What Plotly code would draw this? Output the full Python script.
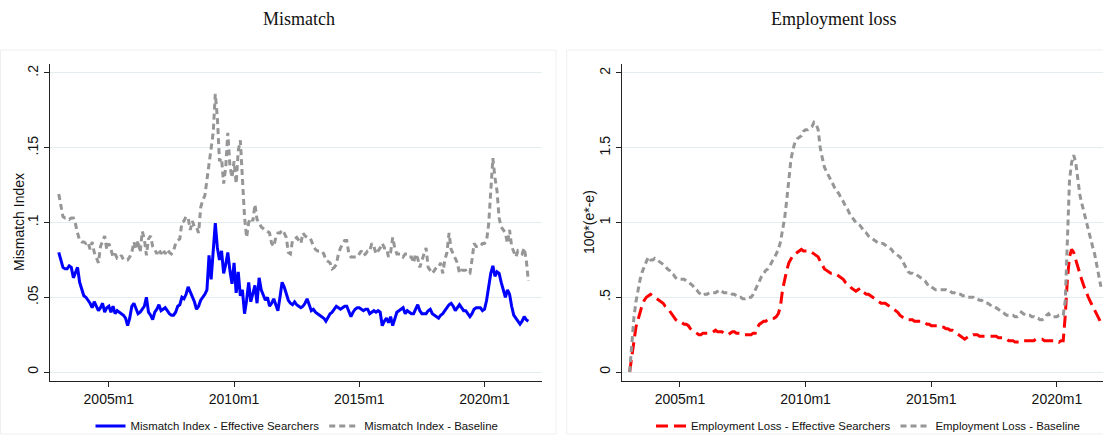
import pandas as pd
import plotly.graph_objects as go

# Monthly series, 2003m1 onwards
mismatch_eff = [
    .080, .075, .070, .069, .069, .071, .070, .063, .067, .070, .060, .056,
    .051, .050, .048, .046, .043, .047, .044, .041, .043, .046, .040, .043,
    .044, .040, .044, .039, .041, .040, .039, .038, .036, .031, .036, .044,
    .046, .042, .039, .040, .042, .044, .050, .040, .038, .035, .040, .042,
    .045, .041, .042, .043, .041, .039, .038, .038, .040, .044, .045, .050,
    .049, .052, .057, .054, .050, .047, .042, .044, .048, .050, .052, .055,
    .078, .062, .080, .0996, .083, .075, .081, .066, .072, .080, .068, .059,
    .073, .053, .067, .051, .055, .039, .048, .060, .047, .052, .058, .046,
    .063, .055, .052, .048, .050, .044, .046, .049, .045, .041, .050, .060,
    .057, .052, .048, .046, .045, .047, .045, .044, .043, .044, .046, .049,
    .045, .041, .042, .040, .039, .038, .037, .036, .034, .037, .039, .040,
    .042, .044, .043, .042, .043, .044, .044, .040, .037, .040, .042, .043,
    .043, .042, .041, .042, .042, .039, .040, .041, .040, .041, .040, .031,
    .034, .036, .033, .037, .031, .035, .040, .041, .042, .043, .039, .041,
    .040, .039, .039, .042, .045, .041, .039, .039, .039, .041, .042, .039,
    .038, .037, .036, .038, .039, .041, .043, .045, .046, .044, .041, .043,
    .045, .043, .041, .041, .039, .037, .039, .042, .043, .043, .043, .041,
    .042, .048, .057, .066, .071, .064, .067, .066, .060, .055, .050, .055,
    .052, .044, .038, .036, .034, .032, .034, .037, .035, .034,
]

mismatch_base = [
    .119, .110, .104, .103, .103, .102, .103, .103, .099, .093, .088, .087,
    .087, .086, .087, .082, .087, .080, .076, .073, .084, .088, .091, .082,
    .086, .082, .077, .079, .076, .076, .078, .075, .075, .075, .077, .080,
    .087, .082, .088, .080, .094, .089, .078, .089, .091, .084, .082, .079,
    .082, .079, .082, .079, .082, .080, .079, .081, .086, .088, .089, .100,
    .101, .104, .103, .095, .101, .097, .097, .093, .110, .115, .118, .128,
    .139, .148, .160, .186, .170, .141, .143, .126, .137, .160, .138, .130,
    .141, .126, .148, .155, .125, .104, .090, .100, .103, .101, .112, .102,
    .100, .097, .096, .095, .094, .093, .086, .084, .090, .093, .093, .095,
    .093, .090, .080, .079, .088, .089, .090, .088, .086, .093, .091, .090,
    .090, .088, .084, .082, .081, .081, .081, .079, .075, .074, .073, .069,
    .070, .072, .079, .083, .086, .088, .088, .079, .077, .077, .077, .077,
    .079, .081, .078, .079, .081, .081, .086, .084, .079, .081, .083, .086,
    .083, .083, .077, .080, .090, .083, .079, .079, .079, .077, .079, .079,
    .077, .077, .073, .079, .076, .070, .075, .079, .083, .070, .068, .066,
    .068, .070, .070, .073, .066, .075, .080, .093, .082, .079, .077, .073,
    .066, .068, .068, .068, .066, .066, .075, .086, .084, .084, .084, .086,
    .086, .088, .099, .121, .143, .130, .121, .103, .097, .095, .093, .086,
    .095, .084, .080, .077, .081, .080, .079, .083, .075, .061,
]

emp_loss_eff = [
    .00, .10, .17, .30, .35, .41, .45, .48, .50, .51, .52, .51,
    .50, .49, .48, .47, .46, .44, .43, .41, .39, .37, .35, .34,
    .33, .33, .32, .32, .31, .29, .28, .27, .26, .25, .25, .26,
    .26, .26, .26, .26, .27, .28, .27, .27, .27, .26, .25, .25,
    .26, .27, .27, .26, .26, .26, .25, .25, .25, .25, .25, .26,
    .26, .30, .32, .33, .34, .34, .35, .35, .36, .36, .37, .39,
    .44, .55, .62, .68, .73, .76, .78, .79, .80, .81, .82, .81,
    .81, .81, .80, .80, .79, .78, .77, .74, .71, .69, .68, .67,
    .66, .66, .66, .65, .64, .63, .62, .60, .59, .58, .56, .55,
    .54, .55, .56, .54, .53, .52, .52, .51, .50, .49, .48, .47,
    .46, .46, .46, .45, .44, .43, .42, .41, .40, .38, .37, .36,
    .35, .35, .35, .35, .34, .34, .34, .34, .33, .33, .32, .32,
    .31, .31, .31, .31, .30, .30, .30, .29, .29, .28, .28, .27,
    .26, .25, .24, .23, .22, .23, .24, .24, .25, .25, .25, .24,
    .24, .24, .24, .24, .24, .24, .24, .24, .23, .23, .23, .22,
    .22, .21, .21, .21, .20, .20, .20, .21, .21, .21, .21, .21,
    .21, .21, .22, .22, .22, .22, .21, .21, .21, .21, .21, .21,
    .21, .20, .21, .21, .38, .62, .77, .82, .80, .75, .70, .66,
    .61, .57, .53, .50, .47, .44, .41, .38, .35, .33,
]

emp_loss_base = [
    .00, .18, .36, .47, .55, .62, .67, .71, .74, .77, .75, .75,
    .76, .75, .74, .73, .72, .71, .69, .68, .66, .65, .63, .62,
    .62, .62, .62, .61, .60, .59, .58, .56, .55, .53, .52, .51,
    .52, .52, .53, .53, .53, .53, .54, .55, .54, .53, .53, .53,
    .53, .52, .52, .51, .50, .50, .49, .49, .50, .50, .50, .52,
    .55, .58, .62, .64, .66, .68, .69, .71, .74, .76, .79, .82,
    .87, .95, 1.03, 1.15, 1.30, 1.42, 1.49, 1.54, 1.56, 1.57, 1.58, 1.61,
    1.62, 1.62, 1.63, 1.64, 1.67, 1.66, 1.62, 1.50, 1.43, 1.37, 1.34, 1.31,
    1.29, 1.26, 1.23, 1.21, 1.19, 1.16, 1.14, 1.11, 1.09, 1.06, 1.04, 1.02,
    1.00, .99, .98, .96, .94, .93, .91, .90, .89, .88, .87, .86,
    .86, .86, .85, .84, .83, .82, .80, .79, .78, .77, .75, .72,
    .69, .67, .66, .66, .65, .65, .64, .63, .62, .61, .59, .57,
    .57, .56, .55, .55, .55, .55, .55, .55, .54, .54, .53, .53,
    .52, .52, .52, .51, .51, .50, .50, .50, .50, .49, .49, .48,
    .48, .47, .46, .46, .45, .44, .44, .43, .42, .41, .40, .39,
    .38, .38, .38, .38, .37, .37, .38, .40, .39, .38, .38, .38,
    .37, .37, .36, .36, .35, .35, .36, .38, .39, .37, .37, .37,
    .37, .38, .38, .38, .48, .95, 1.28, 1.40, 1.45, 1.40, 1.30, 1.18,
    1.12, 1.06, 1.01, .95, .89, .84, .79, .72, .64, .57,
]

x_tick_labels = ["2005m1", "2010m1", "2015m1", "2020m1"]
mismatch_ticks = [0, .05, .1, .15, .2]
mismatch_tick_text = ["0", ".05", ".1", ".15", ".2"]
emp_ticks = [0, .5, 1, 1.5, 2]
emp_tick_text = ["0", ".5", "1", "1.5", "2"]

START_YEAR = 2003


def month_index(n):
    periods = pd.period_range(f"{START_YEAR}-01", periods=n, freq="M")
    return [(p.year - START_YEAR) * 12 + p.month - 1 for p in periods]


def label_to_index(label):
    year, month = label.split("m")
    return (int(year) - START_YEAR) * 12 + int(month) - 1


tick_vals = [label_to_index(t) for t in x_tick_labels]

W, H = 1103, 435
SANS = "Liberation Sans, Arial, sans-serif"
SERIF = "Liberation Serif, Times New Roman, serif"
BLUE = "#0000ff"
RED = "#ff0000"
GREY = "#969696"
GRID = "#e4edf0"

fig = go.Figure()

fig.add_trace(go.Scatter(
    x=month_index(len(mismatch_eff)), y=mismatch_eff, mode="lines",
    name="Mismatch Index - Effective Searchers",
    line=dict(color=BLUE, width=3), xaxis="x", yaxis="y", legend="legend"))
fig.add_trace(go.Scatter(
    x=month_index(len(mismatch_base)), y=mismatch_base, mode="lines",
    name="Mismatch Index - Baseline",
    line=dict(color=GREY, width=3, dash="6px,4px"), xaxis="x", yaxis="y",
    legend="legend"))
fig.add_trace(go.Scatter(
    x=month_index(len(emp_loss_eff)), y=emp_loss_eff, mode="lines",
    name="Employment Loss - Effective Searchers",
    line=dict(color=RED, width=3, dash="12px,6px"), xaxis="x2", yaxis="y2",
    legend="legend2"))
fig.add_trace(go.Scatter(
    x=month_index(len(emp_loss_base)), y=emp_loss_base, mode="lines",
    name="Employment Loss - Baseline",
    line=dict(color=GREY, width=3, dash="6px,4px"), xaxis="x2", yaxis="y2",
    legend="legend2"))

y_dom = [(H - 381) / H, (H - 64) / H]
axis_common = dict(
    showline=True, linecolor="#222222", linewidth=1,
    ticks="outside", ticklen=5, tickcolor="#222222", tickwidth=1,
    tickfont=dict(family=SANS, size=14, color="#111111"),
    zeroline=False, fixedrange=True, automargin=False,
)

legend_y = (H - 426) / H

fig.update_layout(
    width=W, height=H,
    margin=dict(l=0, r=0, t=0, b=0, autoexpand=False),
    paper_bgcolor="white", plot_bgcolor="white",
    showlegend=True,
    xaxis=dict(domain=[50 / W, 541.7 / W], range=[-4.2, 231.4],
               tickvals=tick_vals, ticktext=x_tick_labels, showgrid=False,
               anchor="y", **axis_common),
    yaxis=dict(domain=y_dom, range=[-0.006, 0.206], tickvals=mismatch_ticks,
               ticktext=mismatch_tick_text, tickangle=-90, showgrid=True,
               gridcolor=GRID, gridwidth=1, anchor="x", **axis_common),
    xaxis2=dict(domain=[621.7 / W, 1.0], range=[-3.8, 226.0],
                tickvals=tick_vals, ticktext=x_tick_labels, showgrid=False,
                anchor="y2", **axis_common),
    yaxis2=dict(domain=y_dom, range=[-0.06, 2.06], tickvals=emp_ticks,
                ticktext=emp_tick_text, tickangle=-90, showgrid=True,
                gridcolor=GRID, gridwidth=1, anchor="x2", **axis_common),
    legend=dict(orientation="h", x=297 / W, xanchor="center",
                y=legend_y, yanchor="middle", itemwidth=30,
                font=dict(family=SANS, size=11.4, color="#111111"),
                bgcolor="rgba(0,0,0,0)", traceorder="normal"),
    legend2=dict(orientation="h", x=868 / W, xanchor="center",
                 y=legend_y, yanchor="middle", itemwidth=30,
                 font=dict(family=SANS, size=11.4, color="#111111"),
                 bgcolor="rgba(0,0,0,0)", traceorder="normal"),
)

# Panel titles and y-axis titles
fig.add_annotation(text="Mismatch", x=299 / W, y=(H - 19) / H,
                   xref="paper", yref="paper", showarrow=False,
                   xanchor="center", yanchor="middle",
                   font=dict(family=SERIF, size=18, color="#111111"))
fig.add_annotation(text="Employment loss", x=834 / W, y=(H - 19) / H,
                   xref="paper", yref="paper", showarrow=False,
                   xanchor="center", yanchor="middle",
                   font=dict(family=SERIF, size=18, color="#111111"))
fig.add_annotation(text="Mismatch Index", x=19 / W, y=(H - 222) / H,
                   xref="paper", yref="paper", showarrow=False, textangle=-90,
                   xanchor="center", yanchor="middle",
                   font=dict(family=SANS, size=14, color="#111111"))
fig.add_annotation(text="100*(e*-e)", x=589 / W, y=(H - 222) / H,
                   xref="paper", yref="paper", showarrow=False, textangle=-90,
                   xanchor="center", yanchor="middle",
                   font=dict(family=SANS, size=14, color="#111111"))

# Faint outlines of the two sub-graph regions
for x0, x1 in [(0.5, 556), (566.7, W + 5)]:
    fig.add_shape(type="rect", xref="paper", yref="paper",
                  x0=x0 / W, x1=x1 / W, y0=(H - 434) / H, y1=(H - 50) / H,
                  line=dict(color="#efefef", width=1), layer="below")

fig.write_html("out.html")
